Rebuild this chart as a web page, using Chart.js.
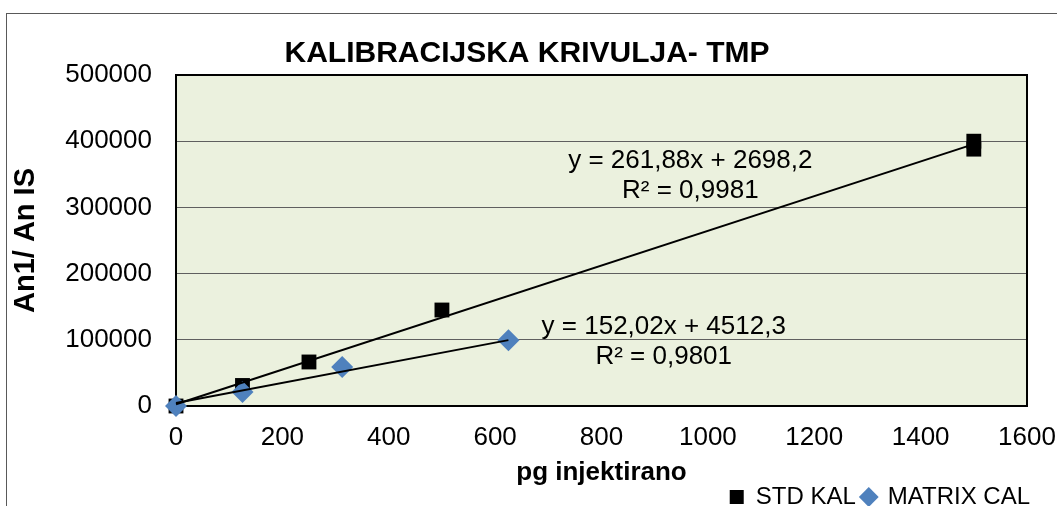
<!DOCTYPE html>
<html>
<head>
<meta charset="utf-8">
<script src="https://cdn.jsdelivr.net/npm/chart.js@4.4.1/dist/chart.umd.min.js"></script>
<style>
  html, body { margin: 0; padding: 0; background: #fff; overflow: hidden; }
  #frame { position: absolute; left: 6px; top: 13px; width: 1200px; height: 600px; border: 1px solid #595959; }
  #chart { position: absolute; left: 0; top: 0; }
</style>
</head>
<body>
<div id="frame"></div>
<canvas id="chart" width="1080" height="518"></canvas>
<script>
// values
const stdX = [0, 125, 250, 500, 1500, 1500];
const stdY = [0, 31000, 66500, 145000, 400000, 388000];
const matrixX = [0, 125, 312.5, 625];
const matrixY = [0, 21000, 59000, 99500];

// trendlines as printed on the chart
const stdFit = { slope: 261.88, intercept: 2698.2, r2: 0.9981 };
const matrixFit = { slope: 152.02, intercept: 4512.3, r2: 0.9801 };

const xTicks = [0, 200, 400, 600, 800, 1000, 1200, 1400, 1600];
const yTicks = [0, 100000, 200000, 300000, 400000, 500000];

const font = 'Liberation Sans, Arial, sans-serif';

function toPoints(xs, ys) {
    return xs.map((x, i) => ({ x: x, y: ys[i] }));
}

function trend(fit, xs) {
    const xEnd = Math.max(...xs);
    return [
        { x: 0, y: fit.intercept },
        { x: xEnd, y: fit.slope * xEnd + fit.intercept }
    ];
}

function comma(v) {
    return String(v).replace('.', ',');
}

// plot background + frame of the plot area
const plotFrame = {
    id: 'plotFrame',
    afterLayout(chart) {
        // legend sits a bit further right / lower than chart.js puts it
        const lg = chart.legend;
        lg.left += 9; lg.right += 9;
        lg.top += 1; lg.bottom += 1;
    },
    beforeDraw(chart) {
        const a = chart.chartArea;
        const ctx = chart.ctx;
        ctx.save();
        ctx.fillStyle = '#EBF1DE';
        ctx.fillRect(a.left, a.top, a.right - a.left, a.bottom - a.top);
        ctx.restore();
    },
    beforeDatasetsDraw(chart) {
        const a = chart.chartArea;
        const ctx = chart.ctx;
        ctx.save();
        ctx.strokeStyle = '#000';
        ctx.lineWidth = 2;
        ctx.strokeRect(a.left, a.top, a.right - a.left, a.bottom - a.top);
        ctx.restore();
    }
};

// equation labels of the trendlines
const fitLabels = {
    id: 'fitLabels',
    afterDatasetsDraw(chart) {
        const ctx = chart.ctx;
        const xs = chart.scales.x;
        const ys = chart.scales.y;
        const items = [
            { fit: stdFit, at: [967, 371000] },
            { fit: matrixFit, at: [917, 120000] }
        ];
        ctx.save();
        ctx.font = '26px ' + font;
        ctx.fillStyle = '#000';
        ctx.textAlign = 'center';
        ctx.textBaseline = 'middle';
        items.forEach(it => {
            const px = xs.getPixelForValue(it.at[0]);
            const py = ys.getPixelForValue(it.at[1]);
            ctx.fillText('y = ' + comma(it.fit.slope) + 'x + ' + comma(it.fit.intercept), px, py);
            ctx.fillText('R² = ' + comma(it.fit.r2), px, py + 30);
        });
        ctx.restore();
    }
};

new Chart(document.getElementById('chart').getContext('2d'), {
    type: 'scatter',
    data: {
        datasets: [{
            label: 'STD KAL',
            data: toPoints(stdX, stdY),
            pointStyle: 'rect',
            pointRadius: 10.5,
            pointHoverRadius: 10.5,
            backgroundColor: '#000',
            borderColor: '#000',
            borderWidth: 0,
            clip: false,
            order: 2
        }, {
            label: 'MATRIX CAL',
            data: toPoints(matrixX, matrixY),
            pointStyle: 'rectRot',
            pointRadius: 11,
            pointHoverRadius: 11,
            backgroundColor: '#4F81BD',
            borderColor: '#4F81BD',
            borderWidth: 0,
            clip: false,
            order: 1
        }, {
            label: 'trend std',
            data: trend(stdFit, stdX),
            showLine: true,
            pointRadius: 0,
            borderColor: '#000',
            borderWidth: 2,
            clip: false,
            order: 0
        }, {
            label: 'trend matrix',
            data: trend(matrixFit, matrixX),
            showLine: true,
            pointRadius: 0,
            borderColor: '#000',
            borderWidth: 2,
            clip: false,
            order: 0
        }]
    },
    options: {
        responsive: false,
        animation: false,
        layout: { padding: { left: 27, right: 53, top: 0, bottom: 0 } },
        plugins: {
            title: {
                display: true,
                text: 'KALIBRACIJSKA KRIVULJA- TMP',
                color: '#000',
                font: { family: font, size: 30, weight: 'bold' },
                padding: { top: 36, bottom: 3 }
            },
            legend: {
                position: 'bottom',
                align: 'end',
                labels: {
                    usePointStyle: true,
                    boxWidth: 14,
                    boxHeight: 14,
                    padding: 6,
                    color: '#000',
                    font: { family: font, size: 24 },
                    filter: item => item.datasetIndex < 2,
                    sort: (a, b) => a.datasetIndex - b.datasetIndex
                }
            },
            tooltip: { enabled: false }
        },
        scales: {
            x: {
                type: 'linear',
                min: 0,
                max: 1600,
                afterBuildTicks: s => { s.ticks = xTicks.map(v => ({ value: v })); },
                afterFit: s => { s.height = 72; },
                grid: { display: false, drawTicks: false },
                border: { display: true, color: '#000', width: 2 },
                ticks: {
                    color: '#000',
                    padding: 16,
                    font: { family: font, size: 26 },
                    callback: v => String(v)
                },
                title: {
                    display: true,
                    text: 'pg injektirano',
                    color: '#000',
                    font: { family: font, size: 26, weight: 'bold', lineHeight: 0.4 },
                    padding: 0
                }
            },
            y: {
                type: 'linear',
                min: 0,
                max: 500000,
                afterBuildTicks: s => { s.ticks = yTicks.map(v => ({ value: v })); },
                afterFit: s => { s.width = 149; },
                grid: { color: '#5f5f5f', lineWidth: 1, drawTicks: false },
                border: { display: true, color: '#000', width: 2 },
                ticks: {
                    color: '#000',
                    padding: 24,
                    font: { family: font, size: 26 },
                    callback: v => String(v)
                },
                title: {
                    display: true,
                    text: 'An1/ An IS',
                    color: '#000',
                    font: { family: font, size: 29, weight: 'bold' },
                    padding: { top: -18.4, bottom: 0 }
                }
            }
        }
    },
    plugins: [plotFrame, fitLabels]
});
</script>
</body>
</html>
